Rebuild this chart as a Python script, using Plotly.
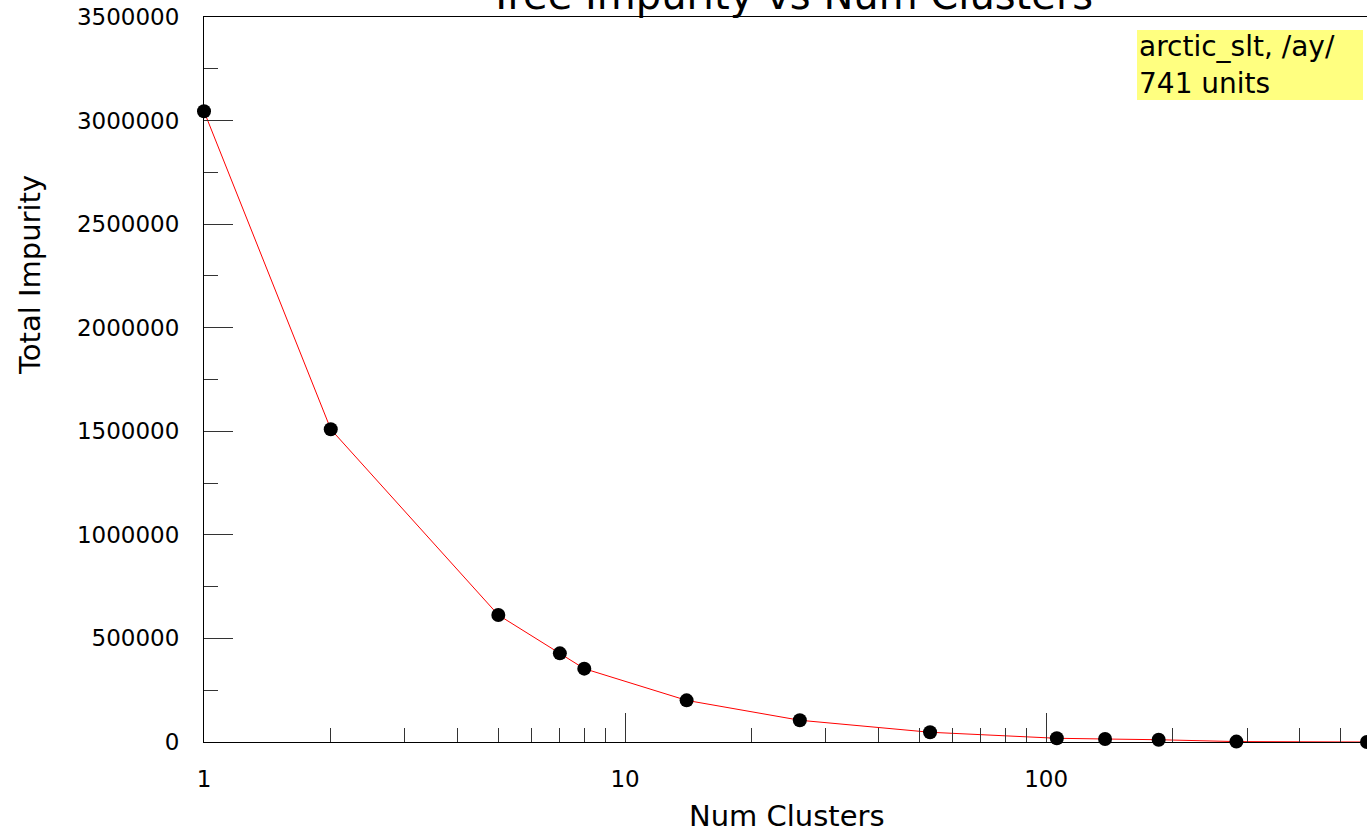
import math
import plotly.graph_objects as go

# ---- data ----
clusters = [1, 2, 5, 7, 8, 14, 26, 53, 106, 138, 185, 283, 578]
impurity = [3045000, 1510000, 613000, 428000, 354000, 201000, 105000,
            47000, 18000, 14500, 11000, 2000, 0]

x_tick_vals = [1, 10, 100]
x_tick_text = ["1", "10", "100"]
x_minor_vals = [2, 3, 4, 5, 6, 7, 8, 9, 20, 30, 40, 50, 60, 70, 80, 90,
                200, 300, 400, 500]
y_tick_vals = [0, 500000, 1000000, 1500000, 2000000, 2500000, 3000000, 3500000]
y_tick_text = ["0", "500000", "1000000", "1500000", "2000000", "2500000",
               "3000000", "3500000"]
y_minor_vals = [250000, 750000, 1250000, 1750000, 2250000, 2750000, 3250000]

title_text = "Tree Impurity vs Num Clusters"
x_title = "Num Clusters"
y_title = "Total Impurity"
legend_lines = ["arctic_slt, /ay/", "741 units"]

FONT = "DejaVu Sans"

fig = go.Figure()
fig.add_trace(go.Scatter(
    x=clusters, y=impurity, mode="lines+markers",
    line=dict(color="#ff0000", width=1),
    marker=dict(color="black", size=14),
    cliponaxis=False, showlegend=False,
))

W, H = 1367, 832
L, R, T, B = 204, 0, 17, 90
pw = W - L - R
ph = H - T - B

def px_x(p):
    return (p - L) / pw

def px_y(p):
    return (H - B - p) / ph

fig.update_layout(
    width=W, height=H,
    margin=dict(l=L, r=R, t=T, b=B),
    paper_bgcolor="white", plot_bgcolor="white",
    font=dict(family=FONT, color="black"),
    xaxis=dict(
        type="log",
        range=[0, math.log10(clusters[-1])],
        showgrid=False, zeroline=False,
        showline=True, linecolor="black", linewidth=1, mirror=True,
        ticks="inside", ticklen=29, tickwidth=1, tickcolor="#333",
        tickvals=x_tick_vals, ticktext=x_tick_text,
        tickfont=dict(size=23, family=FONT),
        ticklabelstandoff=16,
        minor=dict(ticks="inside", ticklen=14, tickwidth=1, tickcolor="#333",
                   tickvals=x_minor_vals, showgrid=False),
    ),
    yaxis=dict(
        range=[0, 3500000],
        showgrid=False, zeroline=False,
        showline=True, linecolor="black", linewidth=1, mirror=False,
        ticks="inside", ticklen=29, tickwidth=1, tickcolor="#333",
        tickvals=y_tick_vals, ticktext=y_tick_text,
        tickfont=dict(size=23, family=FONT),
        ticklabelstandoff=19,
        minor=dict(ticks="inside", ticklen=14, tickwidth=1, tickcolor="#333",
                   tickvals=y_minor_vals, showgrid=False),
    ),
)

annotations = [
    dict(text=title_text, xref="paper", yref="paper",
         x=px_x(790), y=px_y(20), xanchor="center", yanchor="bottom",
         showarrow=False, font=dict(size=40, family=FONT, color="black")),
    dict(text=x_title, xref="paper", yref="paper",
         x=px_x(787), y=px_y(816), xanchor="center", yanchor="middle",
         showarrow=False, font=dict(size=29, family=FONT, color="black")),
    dict(text=y_title, xref="paper", yref="paper", textangle=-90,
         x=px_x(30), y=px_y(275), xanchor="center", yanchor="middle",
         showarrow=False, font=dict(size=29, family=FONT, color="black")),
    dict(text="<br>".join(legend_lines), xref="paper", yref="paper",
         x=px_x(1363), y=px_y(30), xanchor="right", yanchor="top",
         align="left", valign="middle", width=222, height=66,
         showarrow=False, bgcolor="#ffff80",
         borderpad=2, borderwidth=0,
         font=dict(size=28, family=FONT, color="black")),
]
fig.update_layout(annotations=annotations)

fig.write_html(
    "out.html",
    config={"displayModeBar": False},
    post_script="document.body.style.margin='0';document.body.style.overflow='hidden';",
)
